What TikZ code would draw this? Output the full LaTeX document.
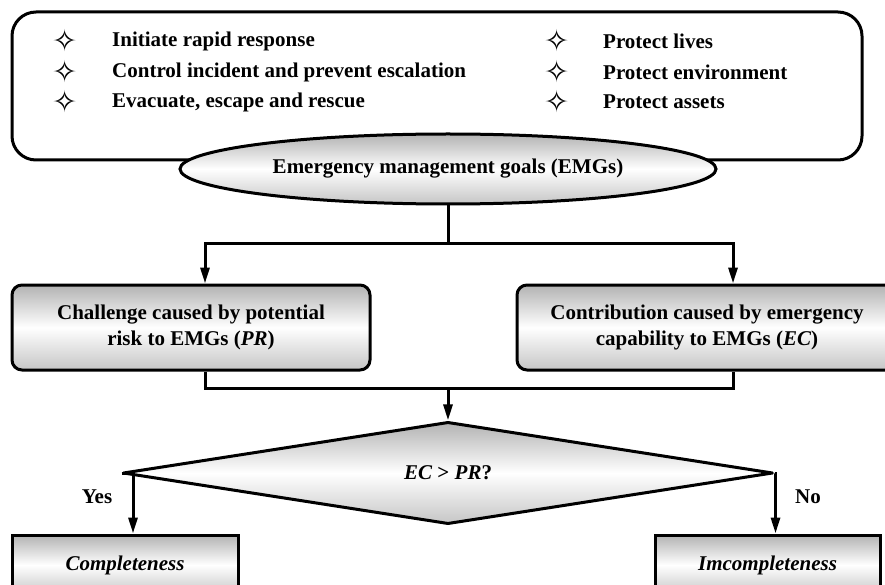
\documentclass[tikz,border=0pt]{standalone}
\usepackage{fontspec}
\setmainfont{Liberation Serif}
\newfontfamily\symfont{DejaVu Sans}
\usetikzlibrary{shapes.geometric,arrows.meta}
\tikzset{
  lw/.style={line width=3pt},
  shadebox/.style={draw, lw, top color=gray!60, bottom color=gray!45, middle color=white,
    font=\bfseries\fontsize{21}{26}\selectfont, align=center, inner sep=0pt},
  arr/.style={lw, -{Triangle[length=16pt,width=9pt]}},
  conn/.style={lw},
  bullet/.style={font=\symfont\fontsize{30}{30}\selectfont, inner sep=0pt},
  goal/.style={font=\bfseries\fontsize{21}{21}\selectfont, anchor=west, inner sep=0pt},
  lab/.style={font=\bfseries\fontsize{21}{21}\selectfont, inner sep=0pt},
}
\begin{document}
\begin{tikzpicture}[x=1pt,y=-1pt]
\useasboundingbox (0,0) rectangle (885,585);
\clip (0,0) rectangle (885,585);
% top goal box
\draw[lw, fill=white, rounded corners=24pt] (12,12) rectangle (862,160);
\node[bullet] (s1) at (65,41) {✧};
\node[bullet] (s2) at (65,72) {✧};
\node[bullet] (s3) at (65,102) {✧};
\node[goal] (g1) at (112,41) {Initiate rapid response};
\node[goal] (g2) at (112,72) {Control incident and prevent escalation};
\node[goal] (g3) at (112,102) {Evacuate, escape and rescue};
\node[bullet] (s4) at (557,41) {✧};
\node[bullet] (s5) at (557,72) {✧};
\node[bullet] (s6) at (557,102) {✧};
\node[goal] (g4) at (603,41) {Protect lives};
\node[goal] (g5) at (603,72) {Protect environment};
\node[goal] (g6) at (603,102) {Protect assets};
% ellipse
\node[shadebox, ellipse, minimum width=536pt, minimum height=70pt] (ell) at (448,169) {Emergency management goals (EMGs)};
% two boxes
\node[shadebox, rounded corners=10pt, minimum width=358pt, minimum height=85pt] (L) at (191,327.5)
  {Challenge caused by potential\\risk to EMGs (\textit{PR})};
\node[shadebox, rounded corners=10pt, minimum width=380pt, minimum height=85pt] (R) at (707,327.5)
  {Contribution caused by emergency\\capability to EMGs (\textit{EC})};
% diamond
\node[shadebox, diamond, minimum width=650pt, minimum height=85pt, line join=round] (dia) at (448,473)
  {\textit{EC} > \textit{PR}?};
% result boxes
\node[shadebox, font=\bfseries\itshape\fontsize{21}{21}\selectfont, minimum width=226pt, minimum height=60pt] (comp) at (125,565) {Completeness};
\node[shadebox, font=\bfseries\itshape\fontsize{21}{21}\selectfont, minimum width=225pt, minimum height=60pt] (inc) at (767.5,565) {Imcompleteness};
% connectors
\coordinate (j1) at (448,243);
\coordinate (j2) at (448,388);
\draw[conn] (ell.south) -- (j1);
\draw[arr] (j1) -| ([xshift=14pt]L.north);
\draw[arr] (j1) -| ([xshift=26pt]R.north);
\draw[conn] ([xshift=14pt]L.south) |- (j2);
\draw[conn] ([xshift=26pt]R.south) |- (j2);
\draw[arr] (j2) -- (dia.north);
\draw[arr] (dia.west) -| ([xshift=8pt]comp.north);
\draw[arr] (dia.east) -| ([xshift=8pt]inc.north);
\node[lab] (yes) at (97,497) {Yes};
\node[lab] (no) at (808,497) {No};
\end{tikzpicture}
\end{document}
